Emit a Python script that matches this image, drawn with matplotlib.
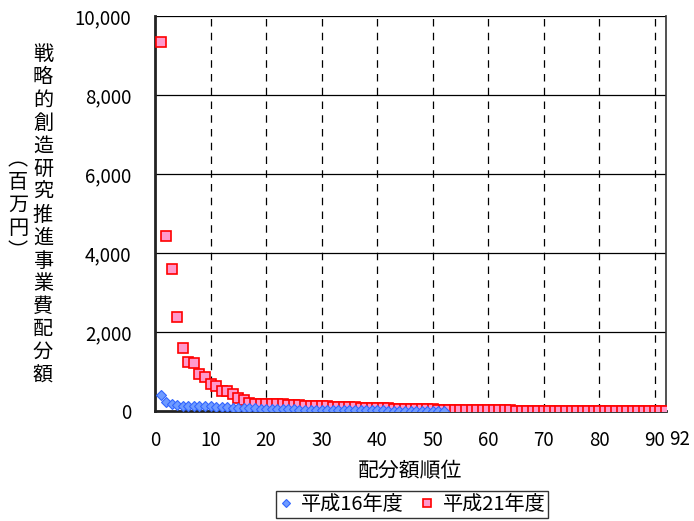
import matplotlib.pyplot as plt
from matplotlib.ticker import FuncFormatter

plt.rcParams['font.family'] = ['Noto Sans CJK JP', 'DejaVu Sans']

# 平成16年度 (blue diamonds), rank 1..52
h16 = [406, 236, 170, 150, 135, 132, 128, 125, 118, 115,
       110, 100, 95, 88, 82, 75, 70, 65, 60, 56,
       52, 48, 45, 42, 40, 37, 35, 33, 31, 29,
       27, 25, 24, 22, 21, 20, 18, 17, 16, 15,
       14, 13, 12, 11, 10, 9, 8, 7, 6, 5,
       4, 3]
# 平成21年度 (pink squares), rank 1..92
h21 = [9350, 4424, 3596, 2368, 1607, 1230, 1220, 930, 855, 680,
       640, 510, 505, 440, 340, 270, 215, 185, 180, 178,
       175, 170, 165, 158, 150, 142, 136, 130, 126, 122,
       118, 112, 106, 100, 95, 90, 86, 82, 78, 74,
       70, 66, 62, 58, 55, 52, 49, 46, 43, 41,
       38, 35, 32, 30, 28, 26, 24, 22, 20, 18,
       17, 16, 15, 14, 13, 12, 11, 10, 10, 9,
       9, 8, 8, 7, 7, 6, 6, 6, 5, 5,
       5, 4, 4, 4, 3, 3, 3, 3, 2, 2,
       2, 2]
x16 = list(range(1, len(h16) + 1))
x21 = list(range(1, len(h21) + 1))

fig = plt.figure(figsize=(6.94, 5.21), dpi=100)
ax = fig.add_axes([0.2233, 0.2111, 0.7364, 0.7582])

ax.plot(x21, h21, ls='none', marker='s', ms=6.8, mfc='#ff99cc', mec='#ff0000',
        mew=1.2, label='平成21年度', zorder=3)
ax.plot(x16, h16, ls='none', marker='D', ms=5, mfc='#6f9bff', mec='#3366ff',
        mew=0.8, label='平成16年度', zorder=4)

ax.set_xlim(0, 92)
ax.set_ylim(0, 10000)
ax.set_xticks(range(0, 91, 10))
ax.set_yticks(range(0, 10001, 2000))
ax.yaxis.set_major_formatter(FuncFormatter(lambda v, p: f'{int(v):,}'))
ax.tick_params(axis='both', length=0, labelsize=13.5)
ax.tick_params(axis='x', pad=14)
ax.tick_params(axis='y', pad=17)
ax.text(94.5, -0.046, '92', transform=ax.get_xaxis_transform(), ha='center',
        va='top', fontsize=13.5)

for xv in range(10, 91, 10):
    ax.axvline(xv, color='black', lw=0.9, ls=(0, (6, 5)), zorder=1)
for yv in range(2000, 10001, 2000):
    ax.axhline(yv, color='black', lw=0.9, zorder=1)

ax.spines['top'].set_visible(False)
ax.spines['right'].set_color('#333333')
ax.spines['right'].set_linewidth(1.2)
ax.spines['left'].set_color('#222222')
ax.spines['left'].set_linewidth(2)
ax.spines['bottom'].set_color('#222222')
ax.spines['bottom'].set_linewidth(2)

ax.set_xlabel('配分額順位', fontsize=15, labelpad=6)

# vertical y-axis title, two columns
label1 = '戦略的創造研究推進事業費配分額'
label2 = '︵百万円︶'
fig.text(0.062, 0.587, '\n'.join(label1), ha='center', va='center',
         fontsize=14.5, linespacing=1.12)
fig.text(0.026, 0.605, '\n'.join(label2), ha='center', va='center',
         fontsize=14.5, linespacing=1.12)

handles, labels = ax.get_legend_handles_labels()
leg = fig.legend(handles[::-1], labels[::-1], loc='center', bbox_to_anchor=(0.594, 0.031),
                 ncol=2, fontsize=14.5, frameon=True, fancybox=False,
                 edgecolor='black', handlelength=0.7, handletextpad=0.4,
                 columnspacing=0.8, borderpad=0.15, markerscale=0.75)
leg.get_frame().set_linewidth(1.0)

fig.savefig('out.png', dpi=100)
